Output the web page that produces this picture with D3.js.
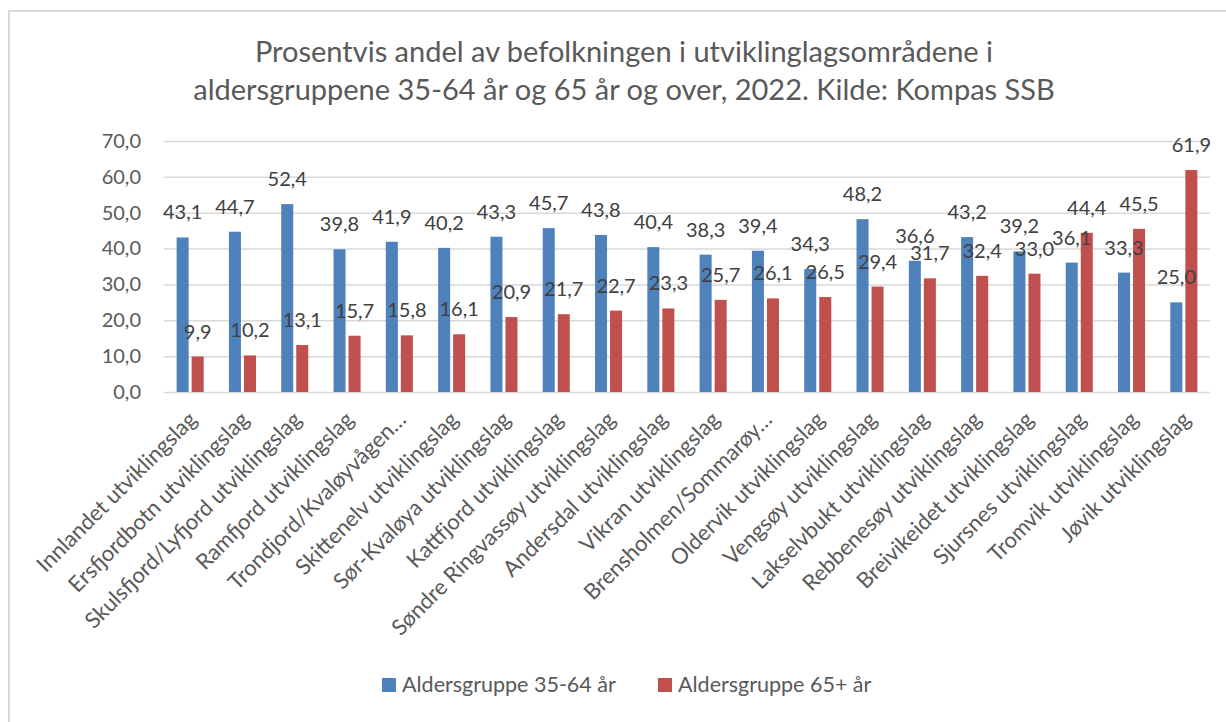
<!DOCTYPE html>
<html>
<head>
<meta charset="utf-8">
<script src="https://cdn.jsdelivr.net/npm/d3@7"></script>
<style>
  body { margin: 0; background: #fff; }
  svg { display: block; font-family: Lato, "Open Sans", sans-serif; }
</style>
</head>
<body>
<svg width="1226" height="722"></svg>
<script>
// Values
const categories = [
    "Innlandet utviklingslag", "Ersfjordbotn utviklingslag", "Skulsfjord/Lyfjord utviklingslag",
    "Ramfjord utviklingslag", "Trondjord/Kvaløyvågen…", "Skittenelv utviklingslag",
    "Sør-Kvaløya utviklingslag", "Kattfjord utviklingslag", "Søndre Ringvassøy utviklingslag",
    "Andersdal utviklingslag", "Vikran utviklingslag", "Brensholmen/Sommarøy…",
    "Oldervik utviklingslag", "Vengsøy utviklingslag", "Lakselvbukt utviklingslag",
    "Rebbenesøy utviklingslag", "Breivikeidet utviklingslag", "Sjursnes utviklingslag",
    "Tromvik utviklingslag", "Jøvik utviklingslag"
];

const age35to64 = [43.1, 44.7, 52.4, 39.8, 41.9, 40.2, 43.3, 45.7, 43.8, 40.4, 38.3, 39.4, 34.3, 48.2, 36.6, 43.2, 39.2, 36.1, 33.3, 25.0];
const age65plus = [9.9, 10.2, 13.1, 15.7, 15.8, 16.1, 20.9, 21.7, 22.7, 23.3, 25.7, 26.1, 26.5, 29.4, 31.7, 32.4, 33.0, 44.4, 45.5, 61.9];

const seriesNames = ["Aldersgruppe 35-64 år", "Aldersgruppe 65+ år"];
const seriesColors = ["#4F81BD", "#C0504D"];
const yTicks = [0, 10, 20, 30, 40, 50, 60, 70];
const titleLines = [
    "Prosentvis andel av befolkningen i utviklinglagsområdene i",
    "aldersgruppene 35-64 år og 65 år og over, 2022. Kilde: Kompas SSB"
];

const data = categories.map((c, i) => ({ name: c, values: [age35to64[i], age65plus[i]] }));

const svg = d3.select("svg");
const plotLeft = 164, plotRight = 1210, plotTop = 141, plotBottom = 392;
const fmt = d => d3.format(".1f")(d).replace(".", ",");

// chart border
svg.append("rect")
    .attr("x", 9).attr("y", 11)
    .attr("width", 1240).attr("height", 740)
    .attr("fill", "none")
    .attr("stroke", "#d9d9d9")
    .attr("stroke-width", 2);

// title
svg.append("g").selectAll("text")
    .data(titleLines)
    .enter().append("text")
    .attr("x", 624)
    .attr("y", (d, i) => 62 + i * 38)
    .attr("text-anchor", "middle")
    .style("font-size", "29px")
    .style("fill", "#595959")
    .text(d => d);

const x0 = d3.scaleBand()
    .domain(categories)
    .range([plotLeft, plotRight]);

const x1 = d3.scaleBand()
    .domain([0, 1])
    .range([0, x0.bandwidth()])
    .paddingInner(0.2)
    .paddingOuter(0.84);

const y = d3.scaleLinear()
    .domain([0, 70])
    .range([plotBottom, plotTop]);

// y axis + gridlines
const yAxis = svg.append("g")
    .attr("transform", `translate(${plotLeft},0)`)
    .call(d3.axisLeft(y)
        .tickValues(yTicks)
        .tickSize(-(plotRight - plotLeft))
        .tickPadding(23)
        .tickFormat(fmt));
yAxis.select(".domain").remove();
yAxis.selectAll("line").attr("stroke", "#d9d9d9").attr("stroke-width", 1.5);
yAxis.selectAll("text")
    .style("font-family", "Lato, sans-serif")
    .style("font-size", "20px")
    .style("fill", "#595959");

// bars
const groups = svg.append("g").selectAll("g")
    .data(data)
    .enter().append("g")
    .attr("transform", d => `translate(${x0(d.name)},0)`);

groups.selectAll("rect")
    .data(d => d.values)
    .enter().append("rect")
    .attr("x", (d, i) => x1(i))
    .attr("width", x1.bandwidth())
    .attr("y", d => y(d))
    .attr("height", d => y(0) - y(d))
    .attr("fill", (d, i) => seriesColors[i]);

groups.selectAll("text")
    .data(d => d.values)
    .enter().append("text")
    .attr("x", (d, i) => x1(i) + x1.bandwidth() / 2)
    .attr("y", d => y(d) - 18)
    .attr("text-anchor", "middle")
    .style("font-size", "20px")
    .style("fill", "#404040")
    .text(fmt);

// x axis labels
const xAxis = svg.append("g")
    .attr("transform", `translate(0,${plotBottom})`)
    .call(d3.axisBottom(x0).tickSize(0).tickPadding(0));
xAxis.select(".domain").remove();
xAxis.selectAll("text")
    .attr("text-anchor", "end")
    .attr("dy", null)
    .attr("y", null)
    .attr("transform", "translate(8,29) rotate(-45)")
    .style("font-family", "Lato, sans-serif")
    .style("font-size", "22px")
    .style("fill", "#595959");

// legend
const legend = svg.append("g").selectAll("g")
    .data(seriesNames)
    .enter().append("g")
    .attr("transform", (d, i) => `translate(${382 + i * 276},678)`);
legend.append("rect")
    .attr("width", 14).attr("height", 14)
    .attr("fill", (d, i) => seriesColors[i]);
legend.append("text")
    .attr("x", 20).attr("y", 14)
    .style("font-size", "21.5px")
    .style("fill", "#595959")
    .text(d => d);
</script>
</body>
</html>
